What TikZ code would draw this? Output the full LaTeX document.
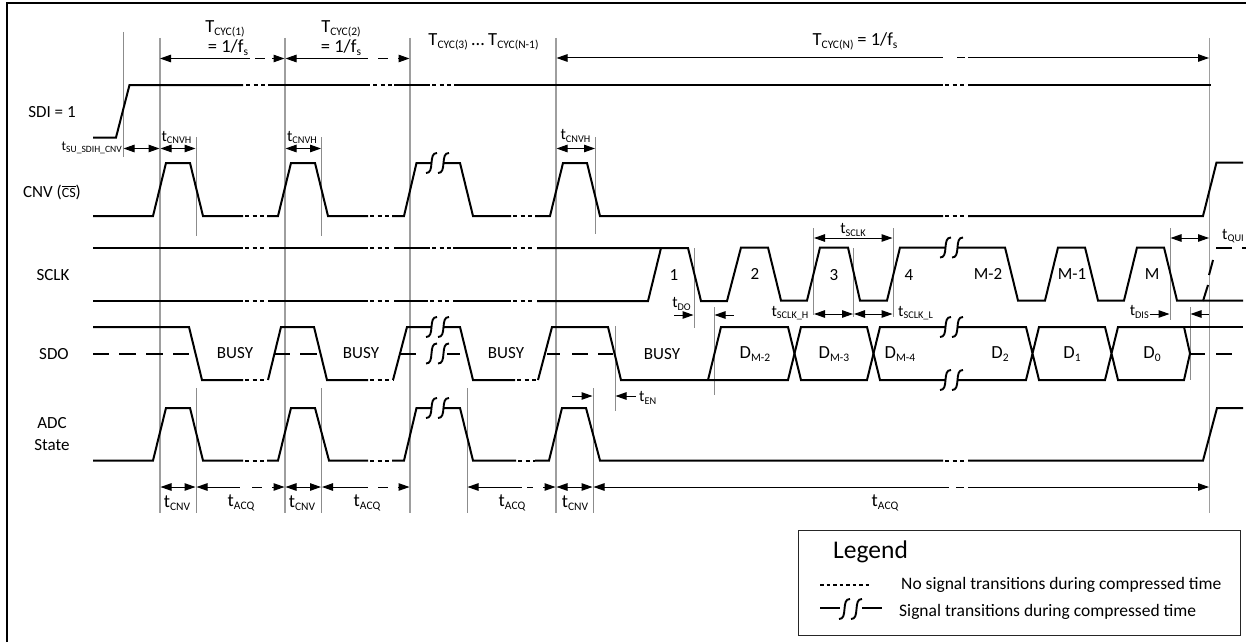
\documentclass[tikz,border=0pt]{standalone}
\usepackage{fontspec}
\setmainfont{Carlito}
\usetikzlibrary{arrows.meta}
\newcommand\bigsub[2]{{\fontsize{18.5}{20}\selectfont #1\fontsize{11.5}{12}\selectfont\raisebox{-3pt}{#2}}}
\newcommand\midsub[2]{{\fontsize{16}{18}\selectfont #1\fontsize{10.3}{11}\selectfont\raisebox{-2.5pt}{#2}}}
\newcommand\smlsub[2]{{\fontsize{13.5}{15}\selectfont #1\fontsize{9.6}{10}\selectfont\raisebox{-1.8pt}{#2}}}
\tikzset{
  x=1pt,y=-1pt,
  sig/.style={line width=2pt,black,line join=miter},
  dots/.style={line width=2pt,black,dash pattern=on 4pt off 3.5pt},
  guide/.style={draw=black!45,line width=0.9pt},
  guideb/.style={draw=black!38,line width=1.3pt},
  dim/.style={line width=1pt,black},
  both/.style={dim,{Triangle[length=11pt,width=7.5pt]}-{Triangle[length=11pt,width=7.5pt]}},
  headr/.style={dim,-{Triangle[length=11pt,width=7.5pt]}},
  headl/.style={dim,{Triangle[length=11pt,width=7.5pt]}-},
  lab/.style={inner sep=0pt,font=\fontsize{17}{19}\selectfont},
  leg/.style={inner sep=0pt,font=\fontsize{17.5}{20}\selectfont,anchor=west},
  brkline/.style={line width=1.9pt,black},
}
\newcommand\brk[2]{%
  \draw[brkline] (#1-11.5,#2+10) .. controls (#1-7,#2+10) and (#1-6.5,#2+6) .. (#1-6,#2)
     .. controls (#1-5.5,#2-6) and (#1-5,#2-10) .. (#1-0.5,#2-10);
  \draw[brkline] (#1+0.5,#2+10) .. controls (#1+5,#2+10) and (#1+5.5,#2+6) .. (#1+6,#2)
     .. controls (#1+6.5,#2-6) and (#1+7,#2-10) .. (#1+11.5,#2-10);}
\newcommand\dt[3]{\draw[dots] (#1,#3) -- (#2,#3);}
\begin{document}
\begin{tikzpicture}
\clip (0,0) rectangle (1246,642);
\fill[white] (0,0) rectangle (1246,642);
% frame
\draw[line width=2pt] (7,642) -- (7,3) -- (1246,3);
% guides
\draw[guide] (123,32) -- (123,157);
\foreach \x in {160,285,410,556,1209.5} \draw[guideb] (\x,38) -- (\x,513);
\foreach \x in {196,321.5} {\draw[guide] (\x,137) -- (\x,236); \draw[guide] (\x,388) -- (\x,513);}
\draw[guide] (467,388) -- (467,513);
\draw[guide] (595.5,137) -- (595.5,234);
\draw[guide] (593,388) -- (593,513);
\draw[guide] (615,326) -- (615,411);
\draw[guide] (694,248) -- (694,328);
\draw[guide] (714,307) -- (714,395);
\draw[guide] (813.5,228) -- (813.5,315);
\draw[guide] (853.5,248) -- (853.5,317);
\draw[guide] (893,228) -- (893,317);
\draw[guide] (1170,228) -- (1170,320);
\draw[guide] (1190,307) -- (1190,380);
% SDI
\draw[sig] (93,137.5) -- (116,137.5) -- (129.5,85) -- (243,85);
\dt{246}{267}{85}
\draw[sig] (268,85) -- (370,85); \dt{373}{392}{85}
\draw[sig] (394,85) -- (430,85); \dt{432}{453}{85}
\draw[sig] (454,85) -- (943,85); \dt{945}{966}{85}
\draw[sig] (968,85) -- (1211,85);
% CNV
\draw[sig] (93,216) -- (153,216) -- (166,163) -- (190,163) -- (203,216) -- (243,216);
\dt{245}{267}{216}
\draw[sig] (267,216) -- (278,216) -- (291,163) -- (315,163) -- (328,216) -- (368,216);
\dt{370}{392}{216}
\draw[sig] (392,216) -- (404,216) -- (416.5,163) -- (431,163);
\draw[sig] (444,163) -- (460,163) -- (473,216) -- (511,216);
\dt{513}{535}{216}
\draw[sig] (535,216) -- (550,216) -- (563,163) -- (587,163) -- (600,216) -- (943,216);
\dt{945}{966}{216}
\draw[sig] (968,216) -- (1203,216) -- (1216.5,162.5) -- (1243,162.5);
\brk{437.5}{163}
% SCLK
\draw[sig] (93,248) -- (243,248); \dt{245}{267}{248}
\draw[sig] (269,248) -- (368,248); \dt{370}{392}{248}
\draw[sig] (394,248) -- (430,248); \dt{432}{452}{248}
\draw[sig] (453,248) -- (511,248); \dt{513}{535}{248}
\draw[sig] (537,248) -- (688,248) -- (701,301) -- (727,301) -- (741,247.5) -- (768,247.5) -- (781,300.5) -- (807,300.5) -- (820,247.5) -- (848,247.5) -- (860,300.5) -- (887,300.5) -- (900,247.5) -- (945,247.5);
\draw[sig] (958,247.5) -- (1005,247.5) -- (1018,300.5) -- (1045,300.5) -- (1058,247.5) -- (1085,247.5) -- (1098,300.5) -- (1124,300.5) -- (1137,247.5) -- (1164,247.5) -- (1177,300.5) -- (1243,300.5);
\brk{951.5}{247.5}
\draw[sig] (93,301) -- (243,301); \dt{245}{267}{301}
\draw[sig] (268,301) -- (368,301); \dt{370}{392}{301}
\draw[sig] (394,301) -- (428,301); \dt{430}{452}{301}
\draw[sig] (453,301) -- (511,301); \dt{513}{535}{301}
\draw[sig] (537,301) -- (648,301) -- (661,248);
\draw[sig] (1203,301) -- (1208,285);
\draw[sig] (1209,275) -- (1213,260);
\draw[sig] (1216,248) -- (1232,248);
\draw[sig] (1242,248) -- (1246,248);
% SDO
\draw[sig] (93,327) -- (189,327) -- (202,380) -- (243,380); \dt{245}{267}{380}
\draw[sig] (268,380) -- (281,327) -- (314,327) -- (327,380) -- (368,380); \dt{370}{393}{380}
\draw[sig] (393,380) -- (407,327) -- (431,327);
\draw[sig] (444,327) -- (460,327) -- (473,380) -- (515,380); \dt{517}{538}{380}
\draw[sig] (538,380) -- (552,327) -- (608,327) -- (621,380) -- (788,380) -- (801,327) -- (867,327) -- (880,380) -- (945,380);
\draw[sig] (708,380) -- (721,327) -- (788,327) -- (801,380) -- (867,380) -- (880,327) -- (945,327);
\draw[sig] (958,327) -- (1026,327) -- (1039,380) -- (1105,380) -- (1118,327) -- (1184,327) -- (1190,353.5) -- (1184,380) -- (1118,380) -- (1105,327) -- (1039,327) -- (1026,380) -- (958,380);
\draw[sig] (1184,327) -- (1243,327);
\brk{437.5}{327}
\brk{437.5}{353.5}
\brk{951.5}{327}
\brk{951.5}{380}
% SDO mid dashes
\foreach \a/\b in {93/109,119/136,146/163,173/189,275/290,300/317,400/416,447/460,547/560,572/588,598/613,1190/1205,1216/1232}
  \draw[sig] (\a,353.5) -- (\b,353.5);
% ADC state
\draw[sig] (93,460.5) -- (153,460.5) -- (166,408) -- (190,408) -- (203,460.5) -- (243,460.5); \dt{245}{267}{460.5}
\draw[sig] (267,460.5) -- (278,460.5) -- (291,408) -- (315,408) -- (329,460.5) -- (368,460.5); \dt{370}{392}{460.5}
\draw[sig] (392,460.5) -- (404,460.5) -- (416.5,408) -- (431,408);
\draw[sig] (444,408) -- (460,408) -- (473,460.5) -- (516,460.5); \dt{518}{535}{460.5}
\draw[sig] (535,460.5) -- (549,460.5) -- (562,408) -- (586,408) -- (600,460.5) -- (943,460.5); \dt{945}{966}{460.5}
\draw[sig] (968,460.5) -- (1203,460.5) -- (1217,408) -- (1243,408);
\brk{437.5}{408}
% top dimension arrows
\draw[headl] (160,58.5) -- (250,58.5);
\draw[dim] (255,58.5) -- (265,58.5);
\draw[headr] (272,58.5) -- (284.5,58.5);
\draw[headl] (285.5,58.5) -- (368,58.5);
\draw[dim] (378,58.5) -- (388,58.5);
\draw[headr] (398,58.5) -- (409.5,58.5);
\draw[headl] (556.5,58) -- (943,58);
\draw[dim] (957,58) -- (965,58);
\draw[headr] (968,58) -- (1209,58);
\draw[both] (123.5,148.5) -- (159.5,148.5);
\draw[both] (160.5,148.5) -- (195.5,148.5);
\draw[both] (285.5,148.5) -- (321,148.5);
\draw[both] (556.5,148.5) -- (595,148.5);
% bottom dimension arrows
\draw[both] (160.5,487) -- (195.5,487);
\draw[headl] (196.5,487) -- (240,487);
\draw[dim] (252,487) -- (262,487);
\draw[headr] (272,487) -- (284.5,487);
\draw[both] (285.5,487) -- (321,487);
\draw[headl] (322,487) -- (368,487);
\draw[dim] (378,487) -- (388,487);
\draw[headr] (398,487) -- (409.5,487);
\draw[headl] (467.5,487) -- (522,487);
\draw[dim] (527,487) -- (533,487);
\draw[headr] (543,487) -- (555.5,487);
\draw[both] (556.5,487) -- (592.5,487);
\draw[headl] (593.5,487) -- (949,487);
\draw[dim] (956,487) -- (964,487);
\draw[headr] (968,487) -- (1209,487);
% SCLK dims
\draw[both] (814,238) -- (892.5,238);
\draw[both] (814,314) -- (853,314);
\draw[both] (854,314) -- (892.5,314);
\draw[headr] (674,315) -- (693.5,315);
\draw[headl] (714.5,315) -- (734,315);
\draw[headl] (615.5,396) -- (636,396);
\draw[headr] (572,396) -- (592.5,396);
\draw[headr] (1150,314) -- (1169.5,314);
\draw[headl] (1190.5,314) -- (1209,314);
\draw[both] (1170.5,238) -- (1209,238);
% signal labels
\node[lab] (nSDI) at (52,112.5) {SDI = 1};
\node[lab] (nCNV) at (52,192) {CNV ($\overline{\mbox{\fontsize{14}{14}\selectfont CS}}$)};
\node[lab] (nSCLK) at (53,275) {SCLK};
\node[lab] (nSDO) at (54,354.5) {SDO};
\node[lab] (nADC) at (52,423.5) {ADC};
\node[lab] (nState) at (52,445.5) {State};
% top text
\node[lab] (tc1) at (225,28.5) {\bigsub{T}{CYC(1)}};
\node[lab] (fs1) at (228,47.5) {{\fontsize{18.5}{20}\selectfont = 1/f}\raisebox{-3pt}{\fontsize{11.5}{12}\selectfont s}};
\node[lab] (tc2) at (341,28.5) {\bigsub{T}{CYC(2)}};
\node[lab] (fs2) at (341,47.5) {{\fontsize{18.5}{20}\selectfont = 1/f}\raisebox{-3pt}{\fontsize{11.5}{12}\selectfont s}};
\node[lab] (tc3) at (483.5,41.5) {\bigsub{T}{CYC(3)} {\fontsize{18.5}{20}\selectfont …} \bigsub{T}{CYC(N-1)}};
\node[lab] (tcn) at (855,41.5) {\bigsub{T}{CYC(N)} {\fontsize{18.5}{20}\selectfont = 1/f}\raisebox{-3pt}{\fontsize{11.5}{12}\selectfont s}};
% small timing labels
\node[lab,anchor=east] (tsu) at (122,148) {\smlsub{t}{SU\_SDIH\_CNV}};
\node[lab] (h1) at (176.5,137.5) {\midsub{t}{CNVH}};
\node[lab] (h2) at (302,137.5) {\midsub{t}{CNVH}};
\node[lab] (h3) at (575.5,136) {\midsub{t}{CNVH}};
\node[lab] (tsclk) at (853,230) {\midsub{t}{SCLK}};
\node[lab] (tsh) at (790,313) {\midsub{t}{SCLK\_H}};
\node[lab,anchor=west] (tsl) at (898,313) {\midsub{t}{SCLK\_L}};
\node[lab] (tdo) at (681.5,304) {\midsub{t}{DO}};
\node[lab,anchor=west] (ten) at (639,398) {\midsub{t}{EN}};
\node[lab,anchor=east] (tdis) at (1149,312) {\midsub{t}{DIS}};
\node[lab,anchor=west] (tqui) at (1222,236) {\midsub{t}{QUI}};
% bottom labels
\node[lab] (b1) at (177,503) {\bigsub{t}{CNV}};
\node[lab] (b2) at (241,503) {\bigsub{t}{ACQ}};
\node[lab] (b3) at (302,503) {\bigsub{t}{CNV}};
\node[lab] (b4) at (367,503) {\bigsub{t}{ACQ}};
\node[lab] (b5) at (512,503) {\bigsub{t}{ACQ}};
\node[lab] (b6) at (575,503) {\bigsub{t}{CNV}};
\node[lab] (b7) at (885,503) {\bigsub{t}{ACQ}};
% data labels
\node[lab] (b8) at (235,353.5) {BUSY};
\node[lab] (b9) at (361,353.5) {BUSY};
\node[lab] (b10) at (506,353.5) {BUSY};
\node[lab] (b11) at (662,354.5) {BUSY};
\node[lab] (d1) at (755,354) {\bigsub{D}{M-2}};
\node[lab] (d2) at (834,354) {\bigsub{D}{M-3}};
\node[lab] (d3) at (900,354) {\bigsub{D}{M-4}};
\node[lab] (d4) at (1000,354) {\bigsub{D}{2}};
\node[lab] (d5) at (1072,354) {\bigsub{D}{1}};
\node[lab] (d6) at (1152,354) {\bigsub{D}{0}};
% clock numbers
\node[lab] (c1) at (674,275) {1};
\node[lab] (c2) at (755,274) {2};
\node[lab] (c3) at (834,275) {3};
\node[lab] (c4) at (909,275) {4};
\node[lab] (c5) at (988,274) {M-2};
\node[lab] (c6) at (1072,274) {M-1};
\node[lab] (c7) at (1152,274) {M};
% legend
\draw[line width=1pt,black!85] (798,530) rectangle (1240,635);
\node[inner sep=0pt,anchor=west,font=\fontsize{25.5}{28}\selectfont] (lgt) at (833,552) {Legend};
\draw[line width=1.5pt,dash pattern=on 3.5pt off 3pt] (820,585) -- (871,585);
\node[leg] (lg1) at (901,585) {No signal transitions during compressed time};
\draw[line width=1.5pt] (820,608) -- (840,608);
\draw[line width=1.5pt] (862,608) -- (882,608);
\brk{850.5}{609}
\node[leg] (lg2) at (899,612) {Signal transitions during compressed time};
\end{tikzpicture}
\end{document}
